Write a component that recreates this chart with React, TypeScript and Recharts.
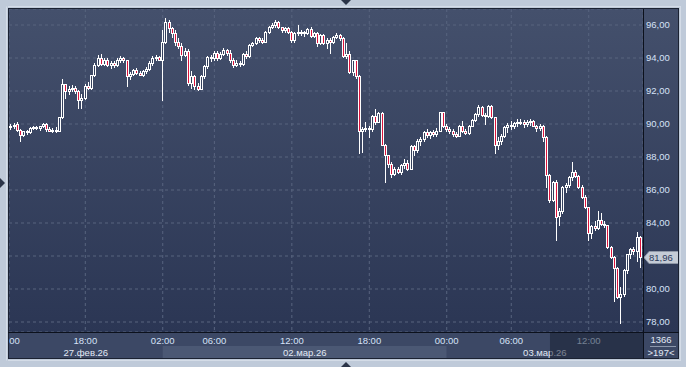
import React from 'react';
import { ComposedChart, Bar, XAxis, YAxis, CartesianGrid, ReferenceLine } from 'recharts';

const W = 686;
const H = 367;
const PLOT_L = 9;
const PLOT_T = 9;
const PLOT_R = 643;
const PLOT_B = 332;
const X_MIN = 0.356;
const X_MAX = 196.82;
const Y_MIN = 77.394;
const Y_MAX = 96.97;

const timeTicks = [0, 24, 48, 64, 88, 112, 136, 156, 180];
const timeLabels = ['12:00', '18:00', '02:00', '06:00', '12:00', '18:00', '00:00', '06:00', '12:00'];
const dayStarts = [0, 48, 136];
const dayEnds = [48, 136, 197];
const dayLabels = ['27.фев.26', '02.мар.26', '03.мар.26'];
const priceTicks = [78, 80, 82, 84, 86, 88, 90, 92, 94, 96];
const lastPrice = 81.96;
const totalBars = 1366;
const visibleBars = 197;
const shadedFrom = 168;

// [open, high, low, close] for each 15-minute candle
const ohlc: [number, number, number, number][] = [
  [89.6, 89.9, 89.5, 89.8], [89.8, 90.0, 89.7, 89.9], [89.9, 90.05, 89.75, 89.95], [90.0, 90.1, 89.6, 89.65],
  [89.65, 89.7, 89.0, 89.35], [89.35, 89.6, 89.3, 89.55], [89.55, 89.65, 89.4, 89.5], [89.5, 89.8, 89.45, 89.75],
  [89.75, 89.9, 89.7, 89.8], [89.8, 89.85, 89.7, 89.75], [89.75, 89.9, 89.65, 89.85], [89.85, 90.05, 89.8, 90.0],
  [90.0, 90.05, 89.6, 89.7], [89.7, 89.8, 89.55, 89.6], [89.6, 89.75, 89.5, 89.65], [89.65, 89.8, 89.5, 89.6],
  [89.6, 90.45, 89.55, 90.4], [90.4, 92.75, 90.35, 92.4], [92.4, 92.45, 91.6, 92.0], [92.0, 92.3, 91.8, 92.15],
  [92.15, 92.35, 92.0, 92.2], [92.2, 92.3, 91.9, 92.0], [92.0, 92.05, 91.0, 91.45], [91.45, 91.8, 91.0, 91.6],
  [91.6, 92.4, 91.5, 92.3], [92.3, 92.55, 92.1, 92.2], [92.2, 93.0, 92.15, 92.95], [92.95, 93.7, 92.9, 93.6],
  [93.6, 94.2, 93.5, 94.0], [94.0, 94.25, 93.6, 93.65], [93.65, 94.0, 93.55, 93.9], [93.9, 94.0, 93.5, 93.6],
  [93.6, 93.8, 93.4, 93.7], [93.7, 93.8, 93.45, 93.55], [93.55, 94.0, 93.5, 93.9], [93.9, 94.1, 93.75, 94.0],
  [94.0, 94.05, 93.75, 93.85], [93.85, 93.9, 92.3, 92.9], [92.9, 93.15, 92.75, 93.05], [93.05, 93.35, 92.95, 93.25],
  [93.25, 93.4, 93.05, 93.1], [93.1, 93.2, 92.95, 93.0], [93.0, 93.3, 92.9, 93.2], [93.2, 93.45, 93.1, 93.35],
  [93.35, 93.8, 93.3, 93.7], [93.7, 94.1, 93.6, 94.0], [94.0, 94.2, 93.85, 94.05], [94.05, 94.1, 93.85, 93.9],
  [93.9, 95.7, 91.45, 95.0], [95.0, 96.4, 94.9, 96.2], [96.2, 96.3, 95.6, 95.8], [95.8, 95.9, 95.3, 95.5],
  [95.5, 95.7, 94.8, 95.0], [95.0, 95.2, 94.6, 94.7], [94.7, 94.9, 93.9, 94.2], [94.2, 94.6, 94.1, 94.45],
  [94.45, 94.55, 92.35, 92.5], [92.5, 93.2, 92.2, 92.9], [92.9, 93.0, 92.1, 92.3], [92.3, 92.5, 92.05, 92.15],
  [92.15, 93.0, 92.1, 92.9], [92.9, 93.55, 92.8, 93.5], [93.5, 94.1, 93.4, 94.05], [94.05, 94.2, 93.8, 94.0],
  [94.0, 94.4, 93.9, 94.3], [94.3, 94.4, 93.9, 94.0], [94.0, 94.35, 93.95, 94.25], [94.25, 94.6, 94.2, 94.5],
  [94.5, 94.55, 94.2, 94.3], [94.3, 94.5, 93.75, 93.9], [93.9, 94.0, 93.45, 93.6], [93.6, 93.85, 93.5, 93.7],
  [93.7, 93.8, 93.5, 93.65], [93.65, 94.3, 93.6, 94.25], [94.25, 94.4, 94.0, 94.1], [94.1, 94.85, 94.05, 94.8],
  [94.8, 95.0, 94.7, 94.9], [94.9, 95.25, 94.85, 95.2], [95.2, 95.3, 95.0, 95.1], [95.1, 95.2, 94.9, 95.0],
  [95.0, 95.65, 94.95, 95.6], [95.6, 95.95, 95.5, 95.9], [95.9, 96.1, 95.8, 96.0], [96.0, 96.3, 95.9, 96.2],
  [96.2, 96.25, 95.8, 95.85], [95.85, 95.9, 95.6, 95.7], [95.7, 95.9, 95.6, 95.8], [95.8, 95.85, 95.5, 95.6],
  [95.6, 95.65, 95.0, 95.1], [95.1, 95.55, 95.0, 95.5], [95.5, 96.0, 95.4, 95.6], [95.6, 95.7, 95.4, 95.55],
  [95.55, 95.65, 95.35, 95.5], [95.5, 95.8, 95.45, 95.75], [95.75, 95.85, 95.3, 95.35], [95.35, 95.55, 95.25, 95.5],
  [95.5, 95.55, 94.75, 94.9], [94.9, 95.45, 94.85, 95.4], [95.4, 95.45, 94.85, 94.9], [94.9, 95.2, 94.6, 95.1],
  [95.1, 95.2, 94.3, 95.0], [95.0, 95.35, 94.9, 95.3], [95.3, 95.5, 95.2, 95.4], [95.4, 95.45, 95.1, 95.2],
  [95.2, 95.25, 94.05, 94.1], [94.1, 94.9, 94.0, 94.25], [94.25, 94.4, 93.1, 93.15], [93.15, 93.9, 93.0, 93.85],
  [93.85, 93.9, 92.8, 92.9], [92.9, 92.95, 88.25, 89.6], [89.6, 89.8, 88.3, 89.7], [89.7, 90.1, 89.55, 89.75],
  [89.75, 89.9, 89.2, 89.7], [89.7, 90.55, 89.6, 90.5], [90.5, 90.9, 90.0, 90.15], [90.15, 90.7, 90.1, 90.65],
  [90.65, 90.7, 88.7, 88.75], [88.75, 88.8, 86.5, 88.1], [88.1, 88.15, 87.4, 87.55], [87.55, 87.7, 86.8, 87.0],
  [87.0, 87.4, 86.9, 87.3], [87.3, 87.4, 87.05, 87.1], [87.1, 87.6, 86.95, 87.5], [87.5, 87.9, 87.35, 87.65],
  [87.65, 87.8, 87.2, 87.3], [87.3, 88.7, 87.25, 88.65], [88.65, 88.75, 88.1, 88.4], [88.4, 89.1, 88.3, 88.95],
  [88.95, 89.2, 88.7, 89.1], [89.1, 89.55, 89.0, 89.5], [89.5, 89.7, 89.2, 89.35], [89.35, 89.6, 89.15, 89.5],
  [89.5, 89.65, 89.3, 89.4], [89.4, 89.75, 89.3, 89.6], [89.6, 90.75, 89.55, 90.7], [90.7, 90.75, 89.8, 89.9],
  [89.9, 90.0, 89.6, 89.7], [89.7, 89.8, 89.45, 89.55], [89.55, 89.7, 89.3, 89.4], [89.4, 89.5, 89.2, 89.3],
  [89.3, 89.95, 89.25, 89.9], [89.9, 90.2, 89.5, 89.6], [89.6, 89.7, 89.4, 89.45], [89.45, 89.95, 89.4, 89.9],
  [89.9, 90.3, 89.85, 90.25], [90.25, 90.65, 90.2, 90.6], [90.6, 91.15, 90.5, 91.05], [91.05, 91.1, 90.5, 90.55],
  [90.55, 90.65, 90.0, 90.5], [90.5, 91.15, 90.45, 91.1], [91.1, 91.15, 90.35, 90.4], [90.4, 90.45, 88.25, 88.7],
  [88.7, 89.2, 88.5, 89.0], [89.0, 89.4, 88.8, 89.3], [89.3, 89.9, 89.2, 89.8], [89.8, 90.05, 89.5, 89.95],
  [89.95, 90.2, 89.7, 89.85], [89.85, 90.15, 89.75, 90.05], [90.05, 90.3, 89.9, 90.15], [90.15, 90.3, 90.0, 90.1],
  [90.1, 90.25, 89.8, 90.0], [90.0, 90.25, 89.85, 90.15], [90.15, 90.3, 89.95, 90.2], [90.2, 90.25, 89.85, 89.85],
  [89.85, 89.95, 89.6, 89.75], [89.75, 90.0, 89.65, 89.9], [89.9, 89.95, 89.0, 89.2], [89.2, 89.25, 86.2, 86.9],
  [86.9, 87.0, 85.3, 85.4], [85.4, 86.55, 85.35, 86.5], [86.5, 86.6, 83.0, 84.35], [84.4, 84.9, 83.9, 84.7],
  [84.7, 86.25, 84.6, 86.2], [86.2, 86.4, 85.9, 86.3], [86.3, 86.85, 86.2, 86.8], [86.8, 87.7, 86.6, 87.1],
  [87.1, 87.2, 86.8, 86.85], [86.85, 86.9, 86.1, 86.2], [86.2, 86.3, 85.5, 85.6], [85.6, 85.7, 84.9, 84.95],
  [84.95, 85.0, 83.0, 83.4], [83.4, 83.9, 83.1, 83.8], [83.8, 84.1, 83.6, 83.7], [83.7, 84.7, 83.65, 84.2],
  [84.2, 84.6, 83.85, 83.95], [83.95, 84.1, 83.75, 83.85], [83.85, 83.9, 82.5, 82.55], [82.55, 82.6, 81.9, 81.95],
  [81.95, 82.0, 79.3, 81.3], [81.3, 81.35, 79.45, 79.5], [79.5, 80.1, 77.95, 79.7], [79.7, 81.2, 79.6, 81.15],
  [81.15, 82.15, 81.0, 82.1], [82.1, 82.5, 81.9, 82.4], [82.4, 82.55, 82.1, 82.3], [82.3, 83.45, 81.7, 83.15],
  [83.15, 83.2, 81.33, 81.96],
];

const data = ohlc.map(([o, h, l, c], i) => ({ i, o, h, l, c, range: [l, h] }));

const pxPerIdx = (PLOT_R - PLOT_L) / (X_MAX - X_MIN);
const idxToPx = (i: number) => PLOT_L + (i - X_MIN) * pxPerIdx;
const dayCenters = dayStarts.map((s, k) => (Math.max(s, X_MIN) + Math.min(dayEnds[k], X_MAX)) / 2);

const AXIS_TEXT = '#d6e2f7';
const FONT = '"Liberation Sans", Arial, sans-serif';
const RED = '#dc143c';

const Candle = (props: any) => {
  const { x, y, width, height, payload } = props;
  if (payload == null || x == null) return null;
  const { o, h, l, c } = payload;
  const top = Math.min(y, y + height);
  const hh = Math.abs(height);
  const cx = Math.floor(x + width / 2);
  const ratio = h - l > 0 ? hh / (h - l) : 0;
  const bTop = Math.round(top + (h - Math.max(o, c)) * ratio);
  const bBot = Math.max(Math.round(top + (h - Math.min(o, c)) * ratio), bTop + 1);
  const up = c >= o;
  return (
    <g>
      <line x1={cx + 0.5} x2={cx + 0.5} y1={Math.round(top)} y2={Math.round(top + hh) + 1} stroke="#ffffff" strokeWidth={1} />
      <rect x={cx - 0.5} y={bTop + 0.5} width={2} height={bBot - bTop} fill={up ? '#34405d' : RED} stroke="#ffffff" strokeWidth={1} />
    </g>
  );
};

const PriceTag = (props: any) => {
  const vb = props.viewBox || {};
  const yy = Math.round(vb.y ?? 0);
  const x0 = (vb.x ?? 0) + (vb.width ?? 0);
  return (
    <g>
      <polygon
        points={`${x0 + 1},${yy + 0.5} ${x0 + 6},${yy - 5.5} ${x0 + 35.5},${yy - 5.5} ${x0 + 35.5},${yy + 6.5} ${x0 + 6},${yy + 6.5}`}
        fill="#c4cbd6"
        stroke="#8f98a8"
        strokeWidth={1}
      />
      <text x={x0 + 6} y={yy + 4} fontSize={9.5} fontFamily={FONT} fill="#2a3858">
        {lastPrice.toFixed(2).replace('.', ',')}
      </text>
    </g>
  );
};

const priceLabel = (v: number) => (Math.abs(v - lastPrice) < 0.7 ? '' : v.toFixed(2).replace('.', ','));

export default function App() {
  const pageBg = '#bfcad9';
  const shadeX = idxToPx(shadedFrom);
  return (
    <div style={{ position: 'fixed', left: 0, top: 0, width: W, height: H, background: pageBg, overflow: 'hidden' }}>
      <svg width={W} height={H} style={{ position: 'absolute', left: 0, top: 0 }}>
        <defs>
          <linearGradient id="plotBg" x1="0" y1="0" x2="0" y2="1">
            <stop offset="0%" stopColor="#44506c" />
            <stop offset="100%" stopColor="#2b3654" />
          </linearGradient>
        </defs>
        <rect x={6.5} y={6.5} width={674} height={354} fill="none" stroke="#d4dce7" />
        <rect x={8} y={8} width={671} height={351} fill="#3c4865" />
        <rect x={PLOT_L} y={PLOT_T} width={679 - PLOT_L} height={PLOT_B - PLOT_T} fill="url(#plotBg)" />
        {dayStarts.map((s, k) => (
          <rect
            key={k}
            x={Math.max(idxToPx(s), 9)}
            y={346}
            width={Math.min(idxToPx(dayEnds[k]), PLOT_R) - Math.max(idxToPx(s), 9)}
            height={13}
            fill={k % 2 === 1 ? '#4b5874' : '#3c4865'}
          />
        ))}
      </svg>
      <div style={{ position: 'absolute', left: 0, top: 0 }}>
        <ComposedChart width={W} height={H} data={data} margin={{ top: PLOT_T, right: 0, bottom: 0, left: PLOT_L }}>
          <CartesianGrid xAxisId="a" stroke="#58647f" strokeDasharray="3 3" />
          <XAxis
            xAxisId="a"
            dataKey="i"
            type="number"
            domain={[X_MIN, X_MAX]}
            allowDataOverflow
            ticks={timeTicks}
            interval={0}
            tickFormatter={(v: number) => timeLabels[timeTicks.indexOf(v)] ?? ''}
            tickLine={false}
            axisLine={false}
            tickSize={0}
            tickMargin={5}
            height={13}
            tick={{ fill: AXIS_TEXT, fontSize: 9.5, fontFamily: FONT }}
          />
          <XAxis
            xAxisId="b"
            dataKey="i"
            type="number"
            domain={[X_MIN, X_MAX]}
            allowDataOverflow
            ticks={dayCenters}
            interval={0}
            tickFormatter={(v: number) => dayLabels[dayCenters.indexOf(v)] ?? ''}
            tickLine={false}
            axisLine={false}
            tickSize={0}
            tickMargin={4}
            height={22}
            tick={{ fill: '#e2e9f5', fontSize: 9.5, fontFamily: FONT }}
          />
          <YAxis
            orientation="right"
            domain={[Y_MIN, Y_MAX]}
            allowDataOverflow
            ticks={priceTicks}
            interval={0}
            tickFormatter={priceLabel}
            tickLine={false}
            axisLine={false}
            tickSize={0}
            tickMargin={3}
            width={W - PLOT_R}
            tick={{ fill: AXIS_TEXT, fontSize: 9.5, fontFamily: FONT, textAnchor: 'start' }}
          />
          <Bar xAxisId="a" dataKey="range" barSize={3} shape={Candle} isAnimationActive={false} />
          <ReferenceLine xAxisId="a" y={lastPrice} stroke="none" ifOverflow="visible" label={(p: any) => <PriceTag {...p} />} />
        </ComposedChart>
      </div>
      <svg width={W} height={H} style={{ position: 'absolute', left: 0, top: 0, pointerEvents: 'none' }}>
        <rect x={0} y={0} width={8} height={H} fill={pageBg} />
        <line x1={6.5} y1={6.5} x2={6.5} y2={360.5} stroke="#d4dce7" />
        <rect x={shadeX} y={333} width={PLOT_R - shadeX} height={26} fill="rgba(20,27,46,0.5)" />
        <rect x={8.5} y={8.5} width={670} height={350} fill="none" stroke="#1b2232" />
        <line x1={PLOT_R + 0.5} y1={9} x2={PLOT_R + 0.5} y2={359} stroke="#0c111c" />
        <line x1={8} y1={PLOT_B + 0.5} x2={679} y2={PLOT_B + 0.5} stroke="#0c111c" />
        <line x1={650} y1={346.5} x2={676} y2={346.5} stroke="#8c97ab" />
        <text x={661} y={343} textAnchor="middle" fontSize={9.5} fontFamily={FONT} fill="#e2e9f5">{totalBars}</text>
        <text x={661} y={356} textAnchor="middle" fontSize={9.5} fontFamily={FONT} fill="#e2e9f5">{`>${visibleBars}<`}</text>
        <polygon points="341,0 351,0 346,5" fill="#2b3448" />
        <polygon points="341,367 351,367 346,362" fill="#2b3448" />
        <polygon points="0,178 0,188 5,183" fill="#2b3448" />
      </svg>
    </div>
  );
}
